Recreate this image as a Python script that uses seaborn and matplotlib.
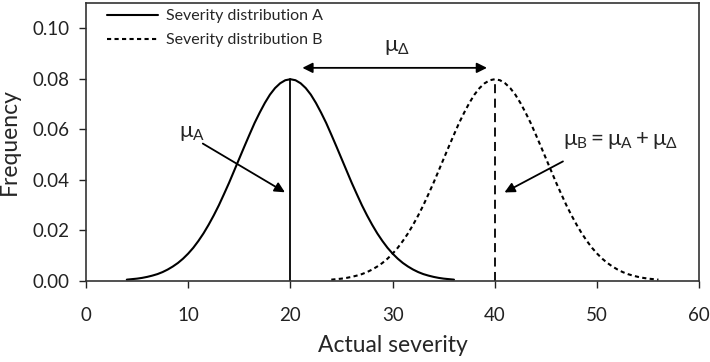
import matplotlib
matplotlib.use("Agg")
import matplotlib.pyplot as plt
import seaborn as sns
import numpy as np
import pandas as pd

# values (half-unit steps)
severity_a = np.arange(4, 36.5, 0.5)
freq_a = [0.0005, 0.0007, 0.0009, 0.0012, 0.0016, 0.0021, 0.0027, 0.0035, 0.0045,
          0.0057, 0.0071, 0.0088, 0.0108, 0.0131, 0.0158, 0.0188, 0.0222, 0.0259,
          0.0299, 0.0343, 0.0388, 0.0436, 0.0484, 0.0532, 0.0579, 0.0625, 0.0666,
          0.0704, 0.0737, 0.0763, 0.0782, 0.0794, 0.0798, 0.0794, 0.0782, 0.0763,
          0.0737, 0.0704, 0.0666, 0.0625, 0.0579, 0.0532, 0.0484, 0.0436, 0.0388,
          0.0343, 0.0299, 0.0259, 0.0222, 0.0188, 0.0158, 0.0131, 0.0108, 0.0088,
          0.0071, 0.0057, 0.0045, 0.0035, 0.0027, 0.0021, 0.0016, 0.0012, 0.0009,
          0.0007, 0.0005]
severity_b = np.arange(24, 56.5, 0.5)
freq_b = [0.0005, 0.0007, 0.0009, 0.0012, 0.0016, 0.0021, 0.0027, 0.0035, 0.0045,
          0.0057, 0.0071, 0.0088, 0.0108, 0.0131, 0.0158, 0.0188, 0.0222, 0.0259,
          0.0299, 0.0343, 0.0388, 0.0436, 0.0484, 0.0532, 0.0579, 0.0625, 0.0666,
          0.0704, 0.0737, 0.0763, 0.0782, 0.0794, 0.0798, 0.0794, 0.0782, 0.0763,
          0.0737, 0.0704, 0.0666, 0.0625, 0.0579, 0.0532, 0.0484, 0.0436, 0.0388,
          0.0343, 0.0299, 0.0259, 0.0222, 0.0188, 0.0158, 0.0131, 0.0108, 0.0088,
          0.0071, 0.0057, 0.0045, 0.0035, 0.0027, 0.0021, 0.0016, 0.0012, 0.0009,
          0.0007, 0.0005]
mean_a = 20
mean_b = 40
peak = 0.08

df_a = pd.DataFrame({"severity": severity_a, "freq": freq_a})
df_b = pd.DataFrame({"severity": severity_b, "freq": freq_b})

sns.set_style("ticks")
plt.rcParams["font.family"] = ["Lato", "DejaVu Sans"]
plt.rcParams["mathtext.fontset"] = "custom"
plt.rcParams["mathtext.rm"] = "Lato"
plt.rcParams["mathtext.it"] = "Lato"

fig = plt.figure(figsize=(7.1, 3.62), dpi=100)
ax = fig.add_axes([0.121, 0.224, 0.864, 0.768])

sns.lineplot(data=df_a, x="severity", y="freq", ax=ax, color="black", lw=1.5,
             label="Severity distribution A")
sns.lineplot(data=df_b, x="severity", y="freq", ax=ax, color="black", lw=1.5,
             linestyle=(0, (2, 1.6)), label="Severity distribution B")
ax.plot([mean_a, mean_a], [0, peak], color="black", lw=1.3)
ax.plot([mean_b, mean_b], [0, peak], color="black", lw=1.3, linestyle=(0, (5, 3)))

ax.set_xlim(0, 60)
ax.set_ylim(0, 0.11)
ax.set_xticks(range(0, 61, 10))
ax.set_yticks([0, 0.02, 0.04, 0.06, 0.08, 0.10])
ax.set_yticklabels(["0.00", "0.02", "0.04", "0.06", "0.08", "0.10"])
ax.tick_params(labelsize=13.5, colors="#222222", length=5, width=1)
ax.tick_params(axis="x", pad=14)
ax.tick_params(axis="y", pad=7)
ax.set_xlabel("Actual severity", fontsize=16.5, labelpad=8)
ax.set_ylabel("Frequency", fontsize=16.5, labelpad=9)
for s in ax.spines.values():
    s.set_color("#333333")
    s.set_linewidth(1.2)

# annotations
ax.annotate("", xy=(20.9, 0.0843), xytext=(39.5, 0.0843),
            arrowprops=dict(arrowstyle="<|-|>", color="black", lw=1.3, mutation_scale=15))
ax.text(30.4, 0.0925, r"$\mathregular{\mu_\Delta}$", fontsize=16, ha="center", va="center")

ax.annotate("", xy=(19.7, 0.0345), xytext=(11.2, 0.0549),
            arrowprops=dict(arrowstyle="-|>", color="black", lw=1.3, mutation_scale=15))
ax.text(10.4, 0.0585, r"$\mathregular{\mu_A}$", fontsize=16, ha="center", va="center")

ax.annotate("", xy=(40.7, 0.0345), xytext=(46.9, 0.0478),
            arrowprops=dict(arrowstyle="-|>", color="black", lw=1.3, mutation_scale=15))
ax.text(52.3, 0.0555, r"$\mathregular{\mu_B = \mu_A + \mu_\Delta}$", fontsize=16,
        ha="center", va="center")

leg = ax.legend(loc="upper left", frameon=False, fontsize=11.5, handlelength=3.2,
                handletextpad=0.5, borderaxespad=0, labelspacing=0.6,
                bbox_to_anchor=(0.024, 1.0))

fig.savefig("out.png", dpi=100)
